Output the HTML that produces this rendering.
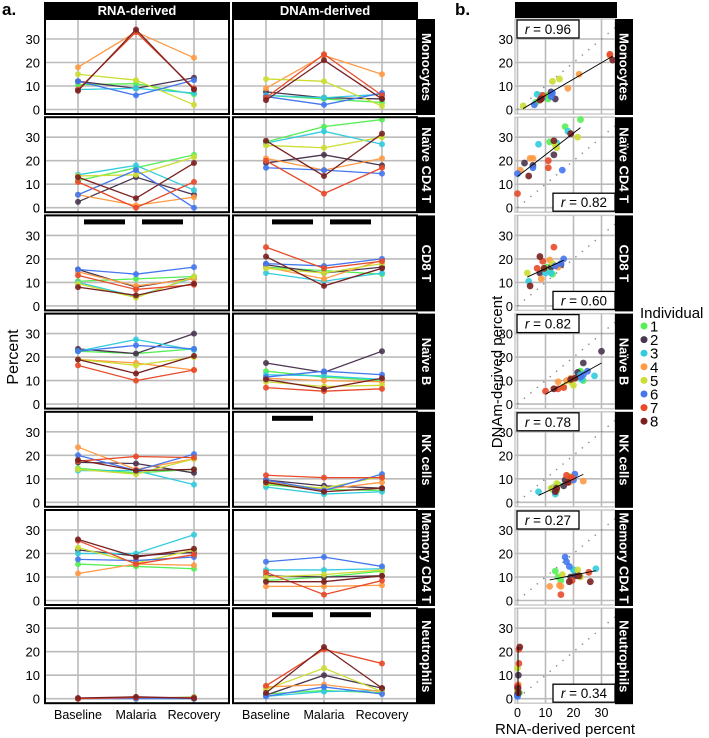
<!DOCTYPE html>
<html><head><meta charset="utf-8"><style>
html,body{margin:0;padding:0;background:#fff;}
svg{display:block;font-family:"Liberation Sans",Arial,sans-serif;}
</style></head><body>
<svg id="fig" width="709" height="738" viewBox="0 0 709 738"></svg>
<script>
const cellTypes = ['Monocytes','Naïve CD4 T','CD8 T','Naïve B','NK cells','Memory CD4 T','Neutrophils'];
const timepoints = ['Baseline','Malaria','Recovery'];
const individuals = ['1','2','3','4','5','6','7','8'];
const colors = ['#55ee55','#4a3550','#33ccdd','#ff9944','#ccdd33','#4477ee','#e84a2a','#7a2020'];
const yTicks = [0,10,20,30];
const xTicksB = [0,10,20,30];
const rValues = ['0.96','0.82','0.60','0.82','0.78','0.27','0.34'];
const rPos = ['tl','br','br','tl','tl','tl','br'];
// rows = individuals 1..8, columns = Baseline, Malaria, Recovery
const rnaMono = [[10.5,11,6.5],[12,9,13.5],[8.5,9,7],[18,33,22],[15,12.5,2],[12,6,12.5],[8.5,33,9],[8,34,8.5]];
const dnaMono = [[6,4.5,3],[7.5,5,4.5],[6,5,6.5],[9,23,15],[13,12,1.5],[5.5,2,7],[5,23.5,6],[4,21,4.5]];
const rnaNCD4 = [[11.5,17,22.5],[2.5,13,5.5],[14,18,7.5],[5.5,1,4.5],[13.5,14,21.5],[5.5,16,0],[11,0,11],[13,4,19]];
const dnaNCD4 = [[28,34.5,37.5],[19,22.5,18],[27.5,32.5,27],[21,16,21],[26.5,25.5,30],[17,16,14.5],[20,6,17],[28.5,13.5,31.5]];
const rnaCD8 = [[10.5,11.5,12.5],[15.5,8,12],[10,4,12],[14.5,8.5,11.5],[9.5,3.5,12.5],[15.5,13.5,16.5],[13,7,9],[8,4.5,9.5]];
const dnaCD8 = [[16.5,15,13.5],[17.5,14,16.5],[14,10.5,14],[16.5,11.5,19.5],[16,14,18],[18,17,20],[25,16,19],[21,8.5,16]];
const rnaNB = [[22.5,21.5,23.5],[23.5,21.5,30],[22.5,27.5,23],[19,17.5,14.5],[19,16.5,20],[22.5,25,23.5],[16.5,10,14.5],[19,13,20.5]];
const dnaNB = [[14,11.5,10],[17.5,13.5,22.5],[12.5,12,10.5],[11,10,9.5],[9.5,7.5,8],[11.5,14,12.5],[7,5.5,6.5],[10.5,6.5,11]];
const rnaNK = [[14.5,12.5,14],[17,16.5,12.5],[13.5,13.5,7.5],[23.5,14,18.5],[14,12,18.5],[20,13.5,20.5],[17.5,19.5,19],[18,13.5,14]];
const dnaNK = [[7.5,5.5,5],[9.5,7,6],[6.5,3.5,4.5],[9,5.5,8.5],[8,6,11],[9.5,5,12],[11.5,10.5,10.5],[8.5,4.5,6]];
const rnaMCD4 = [[15.5,14.5,13.5],[21.5,19,20.5],[20,20,28],[11.5,15.5,15],[22.5,16,21.5],[17.5,17,18.5],[25.5,15.5,19.5],[26,18.5,22]];
const dnaMCD4 = [[8.5,10,12.5],[10.5,10,10.5],[13,13,13.5],[6,6,6.5],[10,11,13],[16.5,18.5,14.5],[12,2.5,8.5],[8,8,10.5]];
const rnaNeut = [[0,0,0.7],[0,0.3,0],[0,0,0],[0,0.3,0],[0,0,0],[0,0,0],[0,0.5,0.5],[0.3,0.8,0.2]];
const dnaNeut = [[2,3.5,2.5],[1.5,10,4.5],[1,3,3.5],[5,6,3],[4,13,3],[1,5,2],[5.5,21,15],[2.5,22,4.5]];
const rnaData = [rnaMono,rnaNCD4,rnaCD8,rnaNB,rnaNK,rnaMCD4,rnaNeut];
const dnaData = [dnaMono,dnaNCD4,dnaCD8,dnaNB,dnaNK,dnaMCD4,dnaNeut];
// significance bars: [row, column, startTimeIndex]
const sigBars = [[2,0,0],[2,0,1],[2,1,0],[2,1,1],[4,1,0],[6,1,0],[6,1,1]];

const svg = document.getElementById('fig');
const NS = 'http://www.w3.org/2000/svg';
function mk(tag, attrs, parent){const e=document.createElementNS(NS,tag);for(const k in attrs)e.setAttribute(k,attrs[k]);(parent||svg).appendChild(e);return e;}
function rowTop(k){return 18+98.2*k;}
function yScale(v,k){return rowTop(k)+91.5-v*2.35;}
function xA(col,t){return 78+188*col+58*t;}
function xB(v){return 517.5+2.8*v;}

let t = mk('text',{x:2,y:15,'font-size':17,'font-weight':'bold'}); t.textContent='a.';
 
t = mk('text',{x:455,y:15,'font-size':17,'font-weight':'bold'}); t.textContent='b.';
 
t = mk('text',{x:0,y:0,'font-size':16,'text-anchor':'middle',transform:'translate(18,357) rotate(-90)'}); t.textContent='Percent';
 
t = mk('text',{x:0,y:0,'font-size':15,'text-anchor':'middle',transform:'translate(502,372) rotate(-90)'}); t.textContent='DNAm-derived percent';
 
t = mk('text',{x:565,y:734,'font-size':15,'text-anchor':'middle'}); t.textContent='RNA-derived percent';
 

['RNA-derived','DNAm-derived'].forEach((h,c)=>{
  const g = mk('g',{});
  
  
  mk('rect',{x:44+188*c,y:2,width:186,height:16,fill:'#000'},g);
  const tx = mk('text',{x:137+188*c,y:15,'font-size':13,'font-weight':'bold',fill:'#fff','text-anchor':'middle'},g); tx.textContent=h;
});
const hb = mk('rect',{x:515,y:2,width:102,height:16,fill:'#000'});
 

cellTypes.forEach((ct,k)=>{
  const top = rowTop(k);
  for(let c=0;c<2;c++){
    const g = mk('g',{});
    
    
    const x0 = 44+188*c;
    mk('rect',{x:x0+1,y:top+1,width:184,height:95,fill:'#fff'},g);
    yTicks.forEach(v=>mk('line',{x1:x0+1,x2:x0+185,y1:yScale(v,k),y2:yScale(v,k),stroke:'#bbb','stroke-width':1.6},g));
    timepoints.forEach((tp,ti)=>mk('line',{x1:xA(c,ti),x2:xA(c,ti),y1:top+1,y2:top+96,stroke:'#bbb','stroke-width':1.6},g));
    const data = c===0?rnaData[k]:dnaData[k];
    data.forEach((vals,i)=>{
      const pts = vals.map((v,ti)=>xA(c,ti)+','+yScale(v,k)).join(' ');
      const pl = mk('polyline',{points:pts,fill:'none',stroke:colors[i],'stroke-width':1.3},g);
      
      
      vals.forEach((v,ti)=>{
        const cc = mk('circle',{cx:xA(c,ti),cy:yScale(v,k),r:3,fill:colors[i],'fill-opacity':0.9},g);
        
        
      });
    });
    mk('rect',{x:x0+1,y:top+1,width:184,height:95,fill:'none',stroke:'#000','stroke-width':2},g);
  }
  yTicks.forEach(v=>{
    const tl = mk('text',{x:40,y:yScale(v,k)+5,'font-size':13,'text-anchor':'end'}); tl.textContent=v;
     
  });
  const sg = mk('g',{});
   
  mk('rect',{x:418,y:top+1,width:17,height:96,fill:'#000'},sg);
  const st = mk('text',{x:0,y:0,'font-size':13,'font-weight':'bold',fill:'#fff','text-anchor':'middle',transform:`translate(422,${top+49}) rotate(90)`},sg); st.textContent=ct;

  const gb = mk('g',{});
   
  mk('rect',{x:515,y:top+1,width:100,height:95,fill:'#fff',stroke:'#ccc','stroke-width':1.5},gb);
  yTicks.forEach(v=>mk('line',{x1:515,x2:615,y1:yScale(v,k),y2:yScale(v,k),stroke:'#bbb','stroke-width':1.6},gb));
  xTicksB.forEach(v=>mk('line',{x1:xB(v),x2:xB(v),y1:top+1,y2:top+96,stroke:'#bbb','stroke-width':1.6},gb));
  const ymax = (yScale(0,k)-(top+2))/2.35;
  const dmax = Math.min(ymax, (615-517.5)/2.8);
  mk('line',{x1:xB(0),y1:yScale(0,k),x2:xB(dmax),y2:yScale(dmax,k),stroke:'#888','stroke-width':1.4,'stroke-dasharray':'1.4,7'},gb);
  const xs=[],ys=[],cs=[];
  rnaData[k].forEach((vals,i)=>vals.forEach((v,ti)=>{xs.push(v);ys.push(dnaData[k][i][ti]);cs.push(i);}));
  const n=xs.length, mx=xs.reduce((a,b)=>a+b)/n, my=ys.reduce((a,b)=>a+b)/n;
  let sxy=0,sxx=0; xs.forEach((x,j)=>{sxy+=(x-mx)*(ys[j]-my);sxx+=(x-mx)*(x-mx);});
  xs.forEach((x,j)=>{
    const p = mk('circle',{cx:xB(x),cy:yScale(ys[j],k),r:3.4,fill:colors[cs[j]],'fill-opacity':0.9},gb);
    
    
  });
  const xmin=Math.min(...xs), xmax=Math.max(...xs);
  if(xmax-xmin>2){
    const b=sxy/sxx, a=my-b*mx;
    const rl = mk('line',{x1:xB(xmin),y1:yScale(a+b*xmin,k),x2:xB(xmax),y2:yScale(a+b*xmax,k),stroke:'#000','stroke-width':0.9},gb);
     
  } else {
    mk('line',{x1:xB(0.2),y1:yScale(Math.min(...ys),k),x2:xB(0.2),y2:yScale(Math.max(...ys),k),stroke:'#000','stroke-width':0.9},gb);
  }
  const bx = rPos[k]==='tl'?517:553, by = rPos[k]==='tl'?top+2:top+77;
  const rg = mk('g',{},gb);
   
  mk('rect',{x:bx,y:by,width:62,height:18,fill:'#fff',stroke:'#000','stroke-width':1.3},rg);
  const rt = mk('text',{x:bx+31,y:by+14,'font-size':13.5,'text-anchor':'middle'},rg);
  rt.innerHTML = '<tspan font-style="italic">r</tspan> = '+rValues[k];
  yTicks.forEach(v=>{
    const tl = mk('text',{x:513,y:yScale(v,k)+5,'font-size':13,'text-anchor':'end'}); tl.textContent=v;
     
  });
  const sb = mk('g',{});
   
  mk('rect',{x:615,y:top+1,width:18,height:96,fill:'#000'},sb);
  const st2 = mk('text',{x:0,y:0,'font-size':13,'font-weight':'bold',fill:'#fff','text-anchor':'middle',transform:`translate(619.5,${top+49}) rotate(90)`},sb); st2.textContent=ct;
});

sigBars.forEach(sb=>{
  const [k,c,t0]=sb;
  const r = mk('rect',{x:xA(c,t0)+6,y:rowTop(k)+5,width:41,height:5,fill:'#000'});
   
});

for(let c=0;c<2;c++) timepoints.forEach((tp,ti)=>{
  const tl = mk('text',{x:xA(c,ti),y:719,'font-size':12.5,'text-anchor':'middle'}); tl.textContent=tp;
   
});
xTicksB.forEach(v=>{
  const tl = mk('text',{x:xB(v),y:717,'font-size':12.5,'text-anchor':'middle'}); tl.textContent=v;
   
});

const lg = mk('g',{});
 
const lt = mk('text',{x:640,y:318,'font-size':15},lg); lt.textContent='Individual';
individuals.forEach((id,i)=>{
  const eg = mk('g',{},lg);
   
  const y = 326+i*13.6;
  mk('circle',{cx:644,cy:y,r:3.5,fill:colors[i]},eg);
  const et = mk('text',{x:650,y:y+5.5,'font-size':15},eg); et.textContent=id;
});
</script>
</body></html>
